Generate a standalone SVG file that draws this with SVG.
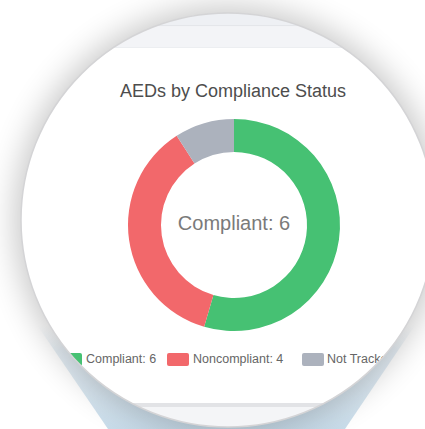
<svg xmlns="http://www.w3.org/2000/svg" width="425" height="429" viewBox="0 0 425 429">
  <defs>
    <style>
      .title { font-family: "Liberation Sans", Arial, sans-serif; font-size: 18px; fill: #4d4d4d; }
      .center { font-family: "Liberation Sans", Arial, sans-serif; font-size: 20px; fill: #7a7a7a; }
      .legend { font-family: "Liberation Sans", Arial, sans-serif; font-size: 12.5px; fill: #666666; }
    </style>
    <clipPath id="lens">
      <circle cx="228" cy="220" r="207"/>
    </clipPath>
    <filter id="blur" x="-30%" y="-30%" width="160%" height="160%">
      <feGaussianBlur stdDeviation="16"/>
    </filter>
    <linearGradient id="beam" x1="0" y1="325" x2="0" y2="429" gradientUnits="userSpaceOnUse">
      <stop offset="0" stop-color="#e8f0f6" stop-opacity="0"/>
      <stop offset="0.25" stop-color="#dde9f2" stop-opacity="0.7"/>
      <stop offset="1" stop-color="#c8dcea"/>
    </linearGradient>
  </defs>

  <rect x="0" y="0" width="425" height="429" fill="#ffffff"/>

  <g id="beam-shape">
    <polygon points="20,300 432,300 345,429 108,429" fill="url(#beam)"/>
  </g>

  <g id="lens-shadow">
    <circle cx="228" cy="220" r="213" fill="#000000" opacity="0.22" filter="url(#blur)"/>
  </g>

  <g id="lens-content" clip-path="url(#lens)">
    <rect x="0" y="0" width="425" height="429" fill="#ffffff"/>
    <rect x="0" y="0" width="425" height="25" fill="#eef0f4"/>
    <rect x="0" y="25" width="425" height="1.5" fill="#e4e6ea"/>
    <rect x="0" y="26.5" width="425" height="20.5" fill="#f3f4f7"/>
    <rect x="0" y="47" width="425" height="1" fill="#eceef1"/>
    <rect x="0" y="403" width="425" height="4" fill="#e2e3e6"/>
    <rect x="0" y="407" width="425" height="22" fill="#f4f5f7"/>

    <g id="title">
      <text class="title" x="233" y="97" text-anchor="middle">AEDs by Compliance Status</text>
    </g>

    <g id="donut">
      <path id="seg-compliant" d="M234,119 A106,106 0 1 1 204.14,326.71 L213.43,295.04 A73,73 0 1 0 234,152 Z" fill="#46c173"/>
      <path id="seg-noncompliant" d="M204.14,326.71 A106,106 0 0 1 176.69,135.83 L194.53,163.59 A73,73 0 0 0 213.43,295.04 Z" fill="#f2686b"/>
      <path id="seg-nottracked" d="M176.69,135.83 A106,106 0 0 1 234,119 L234,152 A73,73 0 0 0 194.53,163.59 Z" fill="#acb2bd"/>
      <text class="center" x="234" y="230" text-anchor="middle">Compliant: 6</text>
    </g>

    <g id="legend">
      <g id="legend-compliant">
        <rect x="60" y="353" width="22" height="13" rx="2" fill="#46c173"/>
        <text class="legend" x="86" y="363">Compliant: 6</text>
      </g>
      <g id="legend-noncompliant">
        <rect x="167" y="353" width="22" height="13" rx="2" fill="#f2686b"/>
        <text class="legend" x="193" y="363">Noncompliant: 4</text>
      </g>
      <g id="legend-nottracked">
        <rect x="302" y="353" width="22" height="13" rx="2" fill="#acb2bd"/>
        <text class="legend" x="327" y="363">Not Tracked</text>
      </g>
    </g>
  </g>

  <g id="lens-rim">
    <circle cx="228" cy="220" r="207" fill="none" stroke="#d4d4d6" stroke-width="1.5"/>
  </g>
</svg>
